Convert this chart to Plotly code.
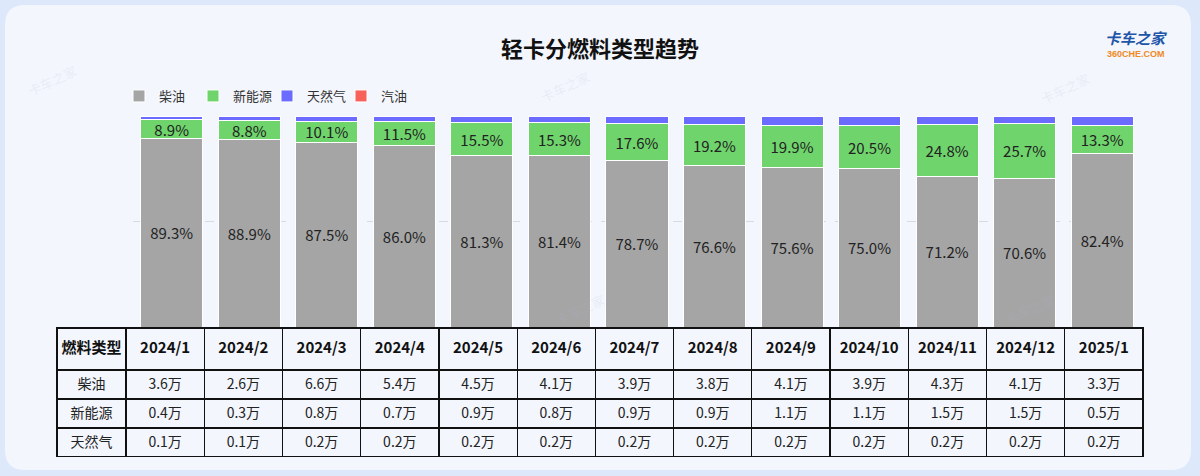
import plotly.graph_objects as go

W, H = 1200, 476

months = ["2024/1", "2024/2", "2024/3", "2024/4", "2024/5", "2024/6", "2024/7",
          "2024/8", "2024/9", "2024/10", "2024/11", "2024/12", "2025/1"]

# share of each fuel type (%)
diesel_pct = [89.3, 88.9, 87.5, 86.0, 81.3, 81.4, 78.7, 76.6, 75.6, 75.0, 71.2, 70.6, 82.4]
nev_pct = [8.9, 8.8, 10.1, 11.5, 15.5, 15.3, 17.6, 19.2, 19.9, 20.5, 24.8, 25.7, 13.3]
cng_pct = [1.4, 1.9, 2.0, 2.1, 3.2, 3.0, 3.4, 4.2, 4.2, 4.2, 4.0, 3.7, 3.9]
gasoline_pct = [0.4, 0.4, 0.4, 0.4, 0.0, 0.3, 0.3, 0.0, 0.3, 0.3, 0.0, 0.0, 0.4]

# sales volumes (万辆)
diesel_units = [3.6, 2.6, 6.6, 5.4, 4.5, 4.1, 3.9, 3.8, 4.1, 3.9, 4.3, 4.1, 3.3]
nev_units = [0.4, 0.3, 0.8, 0.7, 0.9, 0.8, 0.9, 0.9, 1.1, 1.1, 1.5, 1.5, 0.5]
cng_units = [0.1, 0.1, 0.2, 0.2, 0.2, 0.2, 0.2, 0.2, 0.2, 0.2, 0.2, 0.2, 0.2]

series_names = ["柴油", "新能源", "天然气", "汽油"]
table_row_labels = ["柴油", "新能源", "天然气"]
colors = ["#a5a5a5", "#6fd46c", "#6b6bff", "#f8605a"]

FONT = "Noto Sans CJK SC"


def px(x):
    return x / W


def py(y):
    return 1 - y / H


fig = go.Figure()

series = [diesel_pct, nev_pct, cng_pct, gasoline_pct]
for i, (name, vals) in enumerate(zip(series_names, series)):
    show_text = i < 2
    fig.add_trace(go.Bar(
        name=name,
        x=months,
        y=vals,
        marker=dict(color=colors[i], line=dict(color="#ffffff", width=1)),
        texttemplate="%{y:.1f}%" if show_text else None,
        textposition="inside" if show_text else "none",
        insidetextanchor="middle",
        textangle=0,
        constraintext="none",
        textfont=dict(family=FONT, size=15, color="#222222"),
        hoverinfo="skip",
        cliponaxis=False,
    ))

# table
cells_values = [table_row_labels] + [
    [f"{diesel_units[j]}万", f"{nev_units[j]}万", f"{cng_units[j]}万"] for j in range(len(months))
]
fig.add_trace(go.Table(
    domain=dict(x=[px(57), px(1143)], y=[py(457), py(328)]),
    columnwidth=[69] + [78.2] * len(months),
    header=dict(
        values=["<b>燃料类型</b>"] + [f"<b>{m}</b>" for m in months],
        height=42,
        align="center",
        font=dict(family=FONT, size=15, color="#111111"),
        line=dict(color="#111111", width=1.2),
        fill=dict(color="rgba(0,0,0,0)"),
    ),
    cells=dict(
        values=cells_values,
        height=29,
        align="center",
        font=dict(family=FONT, size=14, color="#222222"),
        line=dict(color="#111111", width=1.2),
        fill=dict(color="rgba(0,0,0,0)"),
    ),
))

# background card with rounded corners
x0, x1, y0, y1 = px(5), px(1191), py(470), py(5)
rx, ry = px(20), 20 / H
card_path = (
    f"M {x0+rx},{y1} L {x1-rx},{y1} Q {x1},{y1} {x1},{y1-ry} "
    f"L {x1},{y0+ry} Q {x1},{y0} {x1-rx},{y0} "
    f"L {x0+rx},{y0} Q {x0},{y0} {x0},{y0+ry} "
    f"L {x0},{y1-ry} Q {x0},{y1} {x0+rx},{y1} Z"
)

annotations = [
    dict(text="<b>轻卡分燃料类型趋势</b>", x=0.5, y=py(47), xref="paper", yref="paper",
         xanchor="center", yanchor="middle", showarrow=False,
         font=dict(family=FONT, size=22, color="#111111")),
    dict(text="<b><i>卡车之家</i></b>", x=px(1136), y=py(38), xref="paper", yref="paper",
         xanchor="center", yanchor="middle", showarrow=False,
         font=dict(family=FONT, size=15, color="#1d56a8")),
    dict(text="<b>360CHE.COM</b>", x=px(1136), y=py(54), xref="paper", yref="paper",
         xanchor="center", yanchor="middle", showarrow=False, borderpad=0,
         font=dict(family="Liberation Sans", size=9, color="#f08a24")),
]
# faint watermarks
for (wx, wy) in [(1095, 66), (22, 58), (565, 64), (580, 332), (1060, 332)]:
    annotations.append(dict(text="卡车之家", x=px(wx), y=py(wy), xref="paper", yref="paper",
                            showarrow=False, textangle=-25,
                            font=dict(family=FONT, size=13, color="rgba(170,185,210,0.18)")))

fig.update_layout(
    width=W, height=H,
    margin=dict(l=0, r=0, t=0, b=0),
    autosize=False,
    paper_bgcolor="#dde8fb",
    plot_bgcolor="rgba(0,0,0,0)",
    barmode="stack",
    bargap=0.2,
    font=dict(family=FONT, color="#222222"),
    showlegend=True,
    legend=dict(
        orientation="h", x=px(119), xanchor="left", y=py(96), yanchor="middle",
        font=dict(family=FONT, size=13, color="#333333"),
        entrywidth=29, entrywidthmode="pixels",
        bgcolor="rgba(0,0,0,0)", traceorder="normal",
    ),
    xaxis=dict(domain=[px(133), px(1141)], showticklabels=False, showgrid=False,
               zeroline=False, showline=False, ticks=""),
    yaxis=dict(domain=[py(327), py(116)], range=[0, 100], showticklabels=False,
               showgrid=True, gridcolor="#d6dae2", griddash="dash", gridwidth=1,
               dtick=50, zeroline=False, showline=False, ticks=""),
    shapes=[dict(type="path", path=card_path, xref="paper", yref="paper",
                 fillcolor="#f3f6fd", line=dict(width=0), layer="below")],
    annotations=annotations,
    hovermode=False,
)

fig.write_html("out.html")
